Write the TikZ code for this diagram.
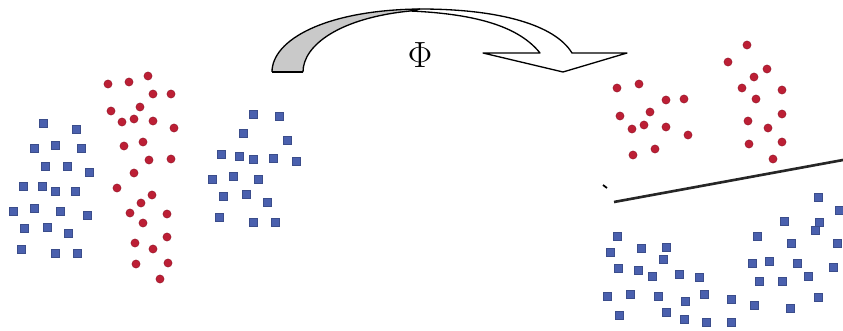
\documentclass[tikz,border=0pt]{standalone}
\usepackage{tikz}
\definecolor{ptBlue}{HTML}{4A60AE}
\definecolor{ptRed}{HTML}{BC1F35}
\definecolor{fGray}{HTML}{C9C9C9}
\tikzset{
  sqr/.style={rectangle, fill=ptBlue, draw=ptBlue!80!black, line width=0.2pt,
    minimum size=0.16cm, inner sep=0pt},
  dot/.style={circle, fill=ptRed, draw=ptRed!75!black, line width=0.2pt,
    minimum size=0.165cm, inner sep=0pt},
  sep/.style={line width=1.5pt, black!85},
  arr/.style={draw=black, line width=0.75pt, line join=round},
}
\begin{document}
\begin{tikzpicture}[x=0.02cm, y=-0.02cm]
\useasboundingbox (0,0) rectangle (843,331);

% =====================================================================
% INPUT SPACE (left)
% =====================================================================
% blue cluster, far left
\foreach \px/\py [count=\i] in {43/123, 76/129, 34/148, 55/145, 81/148, 45/166,
    67/166, 89/172, 23/186, 42/186, 55/191, 75/191, 13/211, 34/208, 60/211,
    87/215, 24/228, 47/227, 68/233, 21/249, 55/253, 77/253}
  \node[sqr] (bA\i) at (\px,\py) {};

% red cluster, middle
\foreach \px/\py [count=\i] in {108/84, 129/82, 148/76, 153/94, 171/94, 111/111,
    140/107, 122/122, 134/119, 153/121, 174/128, 124/146, 143/142, 149/160,
    171/159, 134/173, 117/188, 152/195, 141/203, 130/213, 143/223, 167/214,
    167/237, 135/243, 153/249, 136/264, 168/263, 160/279}
  \node[dot] (rA\i) at (\px,\py) {};

% blue cluster, right of the red one
\foreach \px/\py [count=\i] in {253/114, 279/116, 243/133, 287/140, 221/154,
    239/156, 253/159, 273/158, 296/161, 212/179, 233/176, 258/179, 223/196,
    246/194, 267/202, 219/217, 253/222, 275/222}
  \node[sqr] (bB\i) at (\px,\py) {};

% =====================================================================
% MAP Phi (curved block arrow)
% =====================================================================
% shaded underside
\fill[fGray] (272,72) .. controls (272,40) and (325,10) .. (420,9)
  -- (410,11) .. controls (340,18) and (303,45) .. (303,72) -- cycle;
% upper face + head
\filldraw[arr, fill=white] (420,9) .. controls (500,9) and (555,25) .. (572,53)
  -- (627,53) -- (563,72) -- (483,53) -- (540,53)
  .. controls (520,28) and (480,14) .. (410,11) -- cycle;
\draw[arr] (303,72) .. controls (303,45) and (340,18) .. (410,11);
\draw[arr] (272,72) .. controls (272,40) and (325,10) .. (420,9);
\draw[arr] (272,72) -- (303,72);
\node[font=\fontsize{22}{24}\selectfont] (phi) at (420,55) {$\Phi$};

% =====================================================================
% FEATURE SPACE (right)
% =====================================================================
% red cluster, left
\foreach \px/\py [count=\i] in {617/88, 639/84, 666/100, 684/99, 620/116, 650/112,
    632/129, 644/125, 666/127, 688/135, 633/155, 655/149}
  \node[dot] (rC\i) at (\px,\py) {};

% red cluster, right
\foreach \px/\py [count=\i] in {747/45, 728/62, 767/69, 754/77, 742/88, 782/90,
    756/99, 782/114, 748/121, 768/128, 782/142, 749/144, 773/159}
  \node[dot] (rD\i) at (\px,\py) {};

% blue points below the separator
\foreach \px/\py [count=\i] in {617/236, 610/252, 641/248, 666/247, 663/259,
    618/268, 638/270, 652/276, 679/274, 699/277, 607/296, 630/294, 658/296,
    685/301, 704/294, 731/299, 619/315, 666/312, 684/319, 706/322, 731/322,
    818/197, 839/210, 784/221, 819/222, 815/230, 757/236, 791/243, 837/243,
    752/263, 769/261, 797/263, 833/267, 759/281, 782/281, 808/276, 754/305,
    790/308, 818/297}
  \node[sqr] (bC\i) at (\px,\py) {};

% separating line
\coordinate (sL) at (614,202);
\coordinate (sR) at (843,160);
\draw[sep] (sL) -- (sR);
\coordinate (tA) at (603,185);
\coordinate (tB) at (607,188);
\draw[line width=1pt] (tA) -- (tB);

\end{tikzpicture}
\end{document}
